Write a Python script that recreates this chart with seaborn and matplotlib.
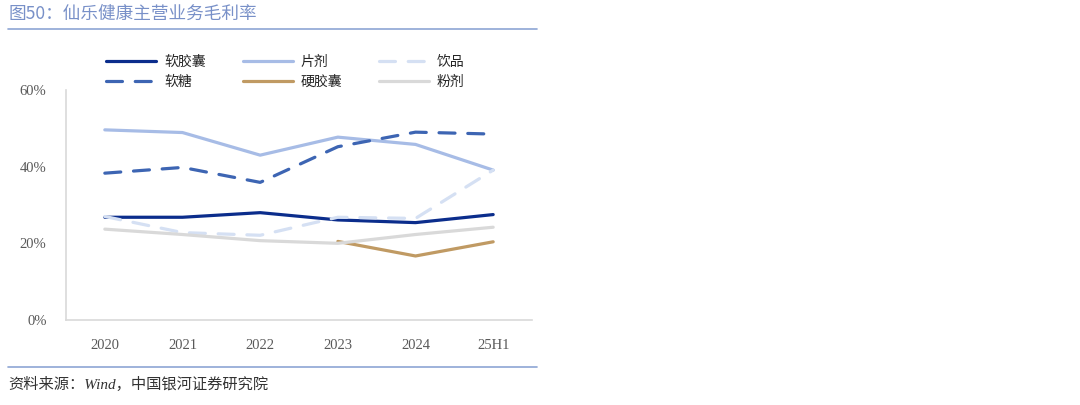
import matplotlib
matplotlib.use("Agg")
import matplotlib.pyplot as plt
import matplotlib.lines as mlines
import pandas as pd
import seaborn as sns
import numpy as np

periods = ['2020', '2021', '2022', '2023', '2024', '25H1']
soft_capsule = [26.8, 26.8, 28.0, 26.1, 25.4, 27.5]
tablet = [49.6, 48.9, 43.0, 47.7, 45.8, 39.1]
drink = [27.0, 22.8, 22.1, 26.8, 26.5, 39.1]
gummy = [38.3, 39.8, 35.9, 45.2, 49.0, 48.5]
hard_capsule = [np.nan, np.nan, np.nan, 20.5, 16.7, 20.4]
powder = [23.7, 22.3, 20.7, 20.0, 22.3, 24.2]

names = ['软胶囊', '片剂', '饮品', '软糖', '硬胶囊', '粉剂']
series = [soft_capsule, tablet, drink, gummy, hard_capsule, powder]
colors = ['#0b2d8c', '#a7bce6', '#d5e0f3', '#3d65b3', '#c09a63', '#d9d9d9']
dashed = [False, False, True, True, False, False]

rows = []
for n, vals in zip(names, series):
    for p, v in zip(periods, vals):
        rows.append({'period': p, 'name': n, 'value': v / 100})
df = pd.DataFrame(rows).dropna()

sns.set_theme(style='white')
plt.rcParams['font.family'] = ['Liberation Serif', 'Noto Sans CJK SC', 'DejaVu Sans']

fig = plt.figure(figsize=(10.8, 4.05), dpi=100)
ax = fig.add_axes([0.0611, 0.2099, 0.4315, 0.5679])

# fix category order on the x axis
ax.plot(periods, [np.nan] * len(periods))

handles = {}
for n, c, d in zip(names, colors, dashed):
    sub = df[df['name'] == n]
    sns.lineplot(data=sub, x='period', y='value', ax=ax, color=c, lw=2.3,
                 sort=False, legend=False)
    line = ax.lines[-1]
    h = mlines.Line2D([], [], color=c, lw=2.3)
    if d:
        for a in (line, h):
            a.set_dashes((5, 4))
            a.set_dash_capstyle('round')
    handles[n] = h

ax.set_xlim(-0.5, 5.5)
ax.set_ylim(0, 0.6)
ax.set_yticks([0, 0.2, 0.4, 0.6])
ax.set_yticklabels(['0%', '20%', '40%', '60%'])
ax.set_xticks(range(len(periods)))
ax.set_xticklabels(periods)
ax.set_xlabel('')
ax.set_ylabel('')
ax.tick_params(axis='both', length=0, labelsize=10.5, colors='#595959')
ax.tick_params(axis='x', pad=14)
ax.tick_params(axis='y', pad=14)
for s in ['top', 'right']:
    ax.spines[s].set_visible(False)
for s in ['left', 'bottom']:
    ax.spines[s].set_color('#d9d9d9')
    ax.spines[s].set_linewidth(1.2)

# legend is filled column by column, so reorder to read row by row
leg_order = ['软胶囊', '软糖', '片剂', '硬胶囊', '饮品', '粉剂']
fig.legend([handles[n] for n in leg_order], leg_order, ncol=3, loc='upper left',
           bbox_to_anchor=(0.087, 0.895), frameon=False, handlelength=3.6,
           handletextpad=0.6, columnspacing=2.6, labelspacing=0.45,
           prop={'family': ['Noto Sans CJK SC'], 'size': 10})

fig.add_artist(mlines.Line2D([0.0074, 0.497], [0.928, 0.928], color='#8ea5d4', lw=1.2))
fig.add_artist(mlines.Line2D([0.0074, 0.497], [0.0938, 0.0938], color='#8ea5d4', lw=1.2))
fig.text(0.008, 0.965, '图50：仙乐健康主营业务毛利率', fontsize=12.7, color='#7890c8',
         va='center', ha='left', family=['Noto Sans CJK SC'])
fig.text(0.008, 0.052, '资料来源：Wind，中国银河证券研究院', fontsize=11, color='#333333',
         va='center', ha='left', style='italic', family=['Liberation Serif', 'Noto Sans CJK SC'])

fig.savefig('out.png', dpi=100)
